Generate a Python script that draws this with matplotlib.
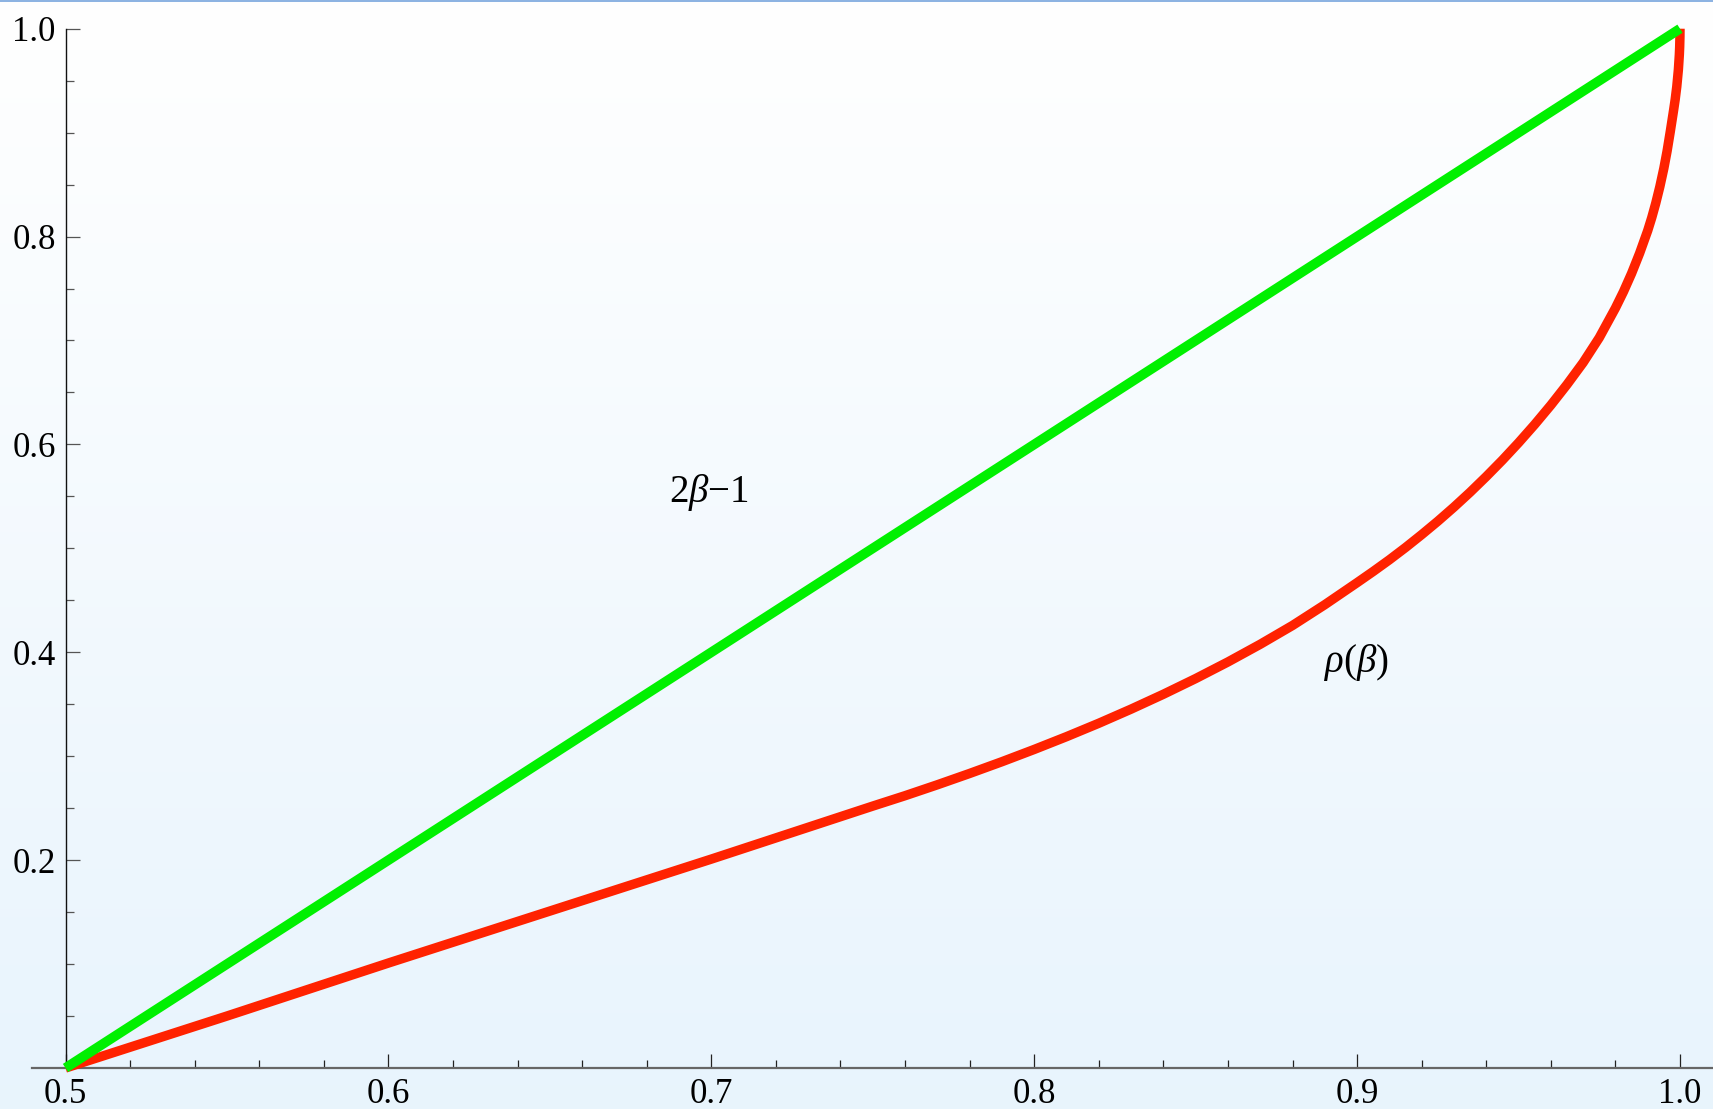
import numpy as np
import matplotlib
matplotlib.use("Agg")
import matplotlib.pyplot as plt
from matplotlib.patches import Rectangle

# ---- data ----
beta_green = [0.5, 1.0]
green_vals = [0.0, 1.0]          # 2*beta - 1

beta_red = [0.5, 0.55, 0.6, 0.65, 0.7, 0.75, 0.76, 0.77, 0.78, 0.79, 0.8,
            0.81, 0.82, 0.83, 0.84, 0.85, 0.86, 0.87, 0.88, 0.89, 0.9,
            0.905, 0.91, 0.915, 0.92, 0.925, 0.93, 0.935, 0.94, 0.945, 0.95,
            0.955, 0.96, 0.965, 0.97, 0.975, 0.98, 0.9825, 0.985, 0.9875, 0.99,
            0.99125, 0.9925, 0.99375, 0.995, 0.996, 0.997, 0.998, 0.9985, 0.999,
            0.9995, 0.9998, 0.9999, 0.99998, 1.0]
rho_vals = [0.0, 0.050, 0.101, 0.151, 0.201, 0.252, 0.262, 0.2725, 0.2834, 0.2947, 0.3065,
            0.3188, 0.3317, 0.3453, 0.3596, 0.3747, 0.3907, 0.4077, 0.4258, 0.4458, 0.467,
            0.4778, 0.489, 0.5008, 0.5132, 0.5261, 0.5397, 0.554, 0.5691, 0.5849, 0.6016,
            0.6192, 0.6378, 0.6576, 0.6787, 0.7027, 0.7312, 0.7470, 0.7645, 0.7840, 0.8057,
            0.8182, 0.8322, 0.8479, 0.8657, 0.8822, 0.9012, 0.9212, 0.9317, 0.9442,
            0.9606, 0.9751, 0.9824, 0.9921, 1.0]

x_major = [0.5, 0.6, 0.7, 0.8, 0.9, 1.0]
x_major_labels = ["0.5", "0.6", "0.7", "0.8", "0.9", "1.0"]
y_major = [0.2, 0.4, 0.6, 0.8, 1.0]
y_major_labels = ["0.2", "0.4", "0.6", "0.8", "1.0"]

label_green = r"$2\beta{-}1$"
label_red = r"$\rho(\beta)$"

# ---- style ----
plt.rcParams['font.family'] = ['Liberation Serif', 'DejaVu Serif']
plt.rcParams['mathtext.fontset'] = 'custom'
plt.rcParams['mathtext.rm'] = 'Liberation Serif'
plt.rcParams['mathtext.it'] = 'Liberation Serif:italic'

W, H = 1713, 1109
fig = plt.figure(figsize=(W / 100, H / 100), dpi=100)
ax = fig.add_axes([0, 0, 1, 1])

# pixel mapping: beta 0.5 -> x 65.5, beta 1.0 -> x 1680; v 0 -> y 1068, v 1 -> y 28.7
x0p, x1p = 65.5, 1680.0
y0p, y1p = 1068.0, 28.7
sx = (x1p - x0p) / 0.5
sy = (y0p - y1p) / 1.0
ax.set_xlim(0.5 - x0p / sx, 0.5 + (W - x0p) / sx)
ax.set_ylim((y0p - H) / sy, y0p / sy)

# background gradient
grad = np.linspace(0, 1, 256).reshape(-1, 1)
top = np.array([1.0, 1.0, 1.0])
bot = np.array([0.91, 0.957, 0.992])
img = top[None, None, :] * (1 - grad[:, :, None]) + bot[None, None, :] * grad[:, :, None]
ax.imshow(img, extent=[0, 1, 0, 1], transform=ax.transAxes, aspect='auto', zorder=0,
          interpolation='bilinear')

# curves
ax.plot(beta_red, rho_vals, color='#ff2200', lw=6.8, solid_capstyle='butt',
        solid_joinstyle='round', zorder=3, clip_on=False)
ax.plot(beta_green, green_vals, color='#00f000', lw=7.0, solid_capstyle='butt',
        zorder=4, clip_on=False)

# labels
ax.text(0.6993, 0.554, label_green, fontsize=28, ha='center', va='center', zorder=5)
ax.text(0.8999, 0.390, label_red, fontsize=28, ha='center', va='center', zorder=5)

# spines / axes
for s in ['top', 'right']:
    ax.spines[s].set_visible(False)
ax.spines['left'].set_position(('data', 0.5))
ax.spines['left'].set_bounds(0, 1)
ax.spines['left'].set_color('#111111')
ax.spines['left'].set_linewidth(1.0)
ax.spines['bottom'].set_position(('data', 0.0))
ax.spines['bottom'].set_bounds(0.5 - (x0p - 32) / sx, 0.5 + (W - x0p) / sx)
ax.spines['bottom'].set_color('#666666')
ax.spines['bottom'].set_linewidth(1.6)
ax.spines['left'].set_zorder(2)
ax.spines['bottom'].set_zorder(2)

ax.set_xticks(x_major)
ax.set_xticklabels(x_major_labels)
ax.set_xticks([0.5 + 0.02 * i for i in range(1, 25) if i % 5 != 0], minor=True)
ax.set_yticks(y_major)
ax.set_yticklabels(y_major_labels)
ax.set_yticks([0.05 * i for i in range(1, 20) if i % 4 != 0], minor=True)

ax.tick_params(axis='x', which='major', direction='in', length=10, width=0.9,
               color='#222222', pad=7, labelsize=25)
ax.tick_params(axis='x', which='minor', direction='in', length=6, width=0.9,
               color='#222222')
ax.tick_params(axis='y', which='major', direction='in', length=10, width=0.9,
               color='#555555', pad=7, labelsize=25)
ax.tick_params(axis='y', which='minor', direction='in', length=6, width=0.9,
               color='#555555')

# top blue border line
fig.add_artist(Rectangle((0, 1 - 2.2 / H), 1, 2.2 / H, transform=fig.transFigure,
                         facecolor='#8db3e2', edgecolor='none', zorder=10))

fig.savefig('out.png', dpi=100)
